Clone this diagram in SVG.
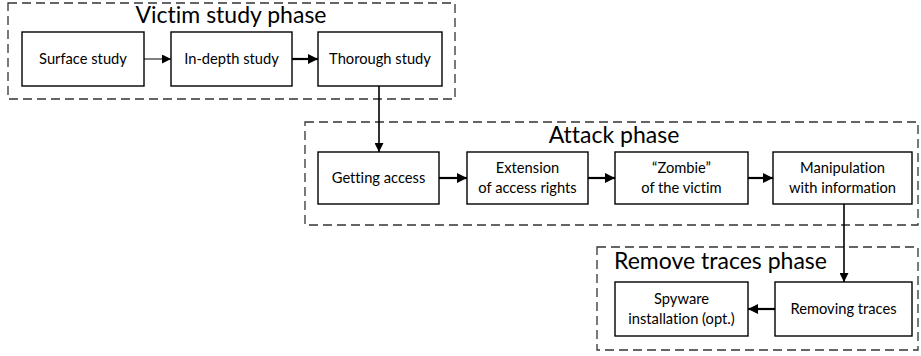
<svg xmlns="http://www.w3.org/2000/svg" width="921" height="356" viewBox="0 0 921 356">
<defs>
<style>
.phase{fill:none;stroke:#333;stroke-width:1.3;stroke-dasharray:9,5}
.node rect{fill:#fff;stroke:#000;stroke-width:1.4}
.t{font-family:Lato,"Liberation Sans",sans-serif;font-size:14.7px;fill:#000;text-anchor:middle;font-variant-ligatures:none}
.title{font-family:Lato,"Liberation Sans",sans-serif;font-size:23px;fill:#000;font-variant-ligatures:none}
.c{fill:none;stroke:#000}
.thin{stroke-width:1}
.thick{stroke-width:2.2}
.mid{stroke-width:1.6}
</style>
<marker id="ah" viewBox="0 0 10 10" refX="10" refY="5" markerWidth="9" markerHeight="9" markerUnits="userSpaceOnUse" orient="auto">
<path d="M0,0 L10,5 L0,10 z" fill="#000"/>
</marker>
<marker id="ahb" viewBox="0 0 10 10" refX="10" refY="5" markerWidth="10" markerHeight="10" markerUnits="userSpaceOnUse" orient="auto">
<path d="M0,0 L10,5 L0,10 z" fill="#000"/>
</marker>
</defs>

<g id="phase-victim">
<rect class="phase" x="8" y="3" width="447" height="96"/>
<text class="title" x="231" y="23" text-anchor="middle">Victim study phase</text>
</g>
<g id="phase-attack">
<rect class="phase" x="305" y="122" width="613" height="103"/>
<text class="title" x="614" y="143" text-anchor="middle">Attack phase</text>
</g>
<g id="phase-remove">
<rect class="phase" x="597" y="247" width="321" height="103"/>
<text class="title" x="614" y="269">Remove traces phase</text>
</g>

<g id="surface-study" class="node">
<rect x="22" y="32" width="122" height="54"/>
<text class="t" x="83" y="64">Surface study</text>
</g>
<g id="in-depth-study" class="node">
<rect x="171" y="32" width="121" height="54"/>
<text class="t" x="231.5" y="64">In-depth study</text>
</g>
<g id="thorough-study" class="node">
<rect x="318" y="32" width="124" height="54"/>
<text class="t" x="380" y="64">Thorough study</text>
</g>

<g id="getting-access" class="node">
<rect x="318" y="152" width="121" height="52"/>
<text class="t" x="378.5" y="183">Getting access</text>
</g>
<g id="extension" class="node">
<rect x="467" y="152" width="121" height="52"/>
<text class="t" x="527.5" y="173">Extension</text>
<text class="t" x="527.5" y="193">of access rights</text>
</g>
<g id="zombie" class="node">
<rect x="615" y="152" width="133" height="52"/>
<text class="t" x="681.5" y="173">“Zombie”</text>
<text class="t" x="681.5" y="193">of the victim</text>
</g>
<g id="manipulation" class="node">
<rect x="773" y="152" width="139" height="52"/>
<text class="t" x="842.5" y="173">Manipulation</text>
<text class="t" x="842.5" y="193">with information</text>
</g>

<g id="removing-traces" class="node">
<rect x="775" y="282" width="137" height="54"/>
<text class="t" x="843.5" y="314">Removing traces</text>
</g>
<g id="spyware" class="node">
<rect x="615" y="282" width="133" height="54"/>
<text class="t" x="681.5" y="304">Spyware</text>
<text class="t" x="681.5" y="324">installation (opt.)</text>
</g>

<g id="connectors">
<path class="c thin" d="M144,59 H171" marker-end="url(#ah)"/>
<path class="c thick" d="M292,59 H318" marker-end="url(#ahb)"/>
<path class="c mid" d="M379,86 V152" marker-end="url(#ah)"/>
<path class="c thick" d="M439,178 H467" marker-end="url(#ahb)"/>
<path class="c thick" d="M588,178 H615" marker-end="url(#ahb)"/>
<path class="c thick" d="M748,178 H773" marker-end="url(#ahb)"/>
<path class="c mid" d="M844,204 V282" marker-end="url(#ah)"/>
<path class="c thick" d="M775,309 H748" marker-end="url(#ahb)"/>
</g>
</svg>
